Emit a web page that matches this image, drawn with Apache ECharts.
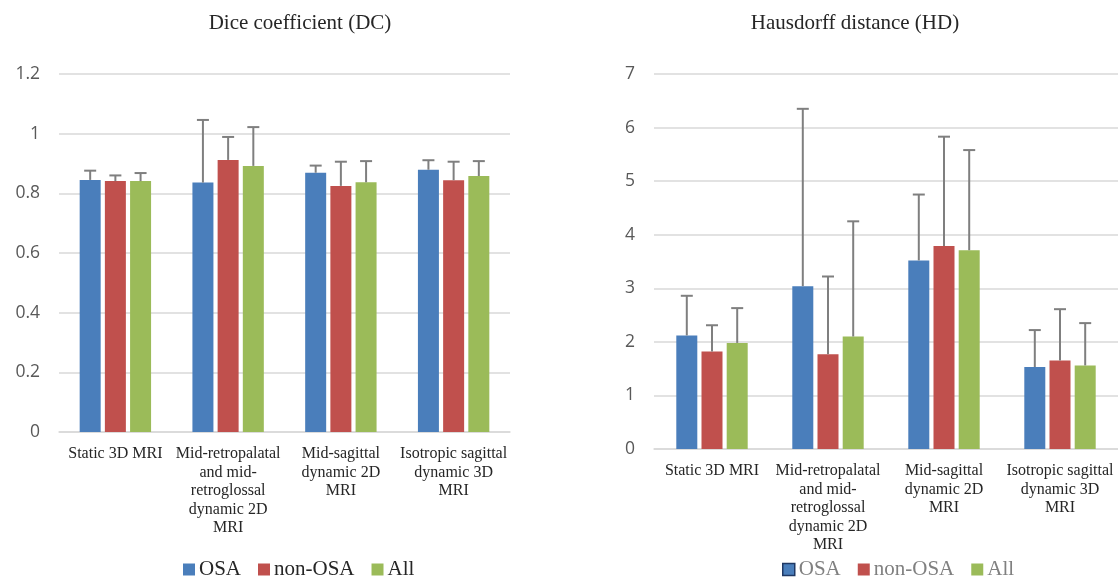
<!DOCTYPE html>
<html>
<head>
<meta charset="utf-8">
<script src="https://cdn.jsdelivr.net/npm/echarts@6/dist/echarts.min.js"></script>
<style>html,body{margin:0;padding:0;background:#fff}#c{width:1118px;height:577px}</style>
</head>
<body>
<div id="c"></div>
<script>
// ---- data ----
var categories = ['Static 3D MRI', 'Mid-retropalatal and mid-retroglossal dynamic 2D MRI', 'Mid-sagittal dynamic 2D MRI', 'Isotropic sagittal dynamic 3D MRI'];
var tickLabels = ['Static 3D MRI', 'Mid-retropalatal\nand mid-\nretroglossal\ndynamic 2D\nMRI', 'Mid-sagittal\ndynamic 2D\nMRI', 'Isotropic sagittal\ndynamic 3D\nMRI'];
var seriesNames = ['OSA', 'non-OSA', 'All'];

// Dice coefficient (mean, mean+SD)
var dcOSA = [0.845, 0.836, 0.869, 0.879];
var dcOSAUpper = [0.876, 1.046, 0.893, 0.911];
var dcNon = [0.841, 0.912, 0.825, 0.844];
var dcNonUpper = [0.860, 0.989, 0.906, 0.906];
var dcAll = [0.841, 0.892, 0.837, 0.858];
var dcAllUpper = [0.868, 1.022, 0.908, 0.908];

// Hausdorff distance (mean, mean+SD)
var hdOSA = [2.12, 3.04, 3.52, 1.53];
var hdOSAUpper = [2.86, 6.35, 4.75, 2.22];
var hdNon = [1.82, 1.77, 3.79, 1.65];
var hdNonUpper = [2.31, 3.22, 5.83, 2.61];
var hdAll = [1.98, 2.10, 3.71, 1.56];
var hdAllUpper = [2.63, 4.25, 5.58, 2.35];

var dcYTicks = ['0', '0.2', '0.4', '0.6', '0.8', '1', '1.2'];
var hdYTicks = ['0', '1', '2', '3', '4', '5', '6', '7'];

var colors = ['#4A7EBB', '#C0504D', '#9BBB59'];
var BAR_W = 21, BAR_SPACING = 25.2;

function barSeries(name, values, axisIdx, colorIdx) {
  return {
    type: 'bar', name: name, data: values,
    xAxisIndex: axisIdx, yAxisIndex: axisIdx,
    barWidth: BAR_W, barGap: '20%',
    itemStyle: { color: colors[colorIdx] },
    z: 2
  };
}
function errSeries(values, uppers, axisIdx, idx) {
  var data = values.map(function (v, i) { return [i, v, uppers[i]]; });
  return {
    type: 'custom', name: 'err' + axisIdx + '_' + idx,
    xAxisIndex: axisIdx, yAxisIndex: axisIdx, z: 3,
    data: data,
    encode: { x: 0, y: [1, 2] },
    renderItem: function (params, api) {
      var c = api.value(0);
      var base = api.coord([c, api.value(1)]);
      var top = api.coord([c, api.value(2)]);
      var x = base[0] + (idx - 1) * BAR_SPACING;
      var style = { stroke: '#7F7F7F', lineWidth: 2 };
      return {
        type: 'group',
        children: [
          { type: 'line', shape: { x1: x, y1: base[1], x2: x, y2: top[1] }, style: style },
          { type: 'line', shape: { x1: x - 6, y1: top[1], x2: x + 6, y2: top[1] }, style: style }
        ]
      };
    }
  };
}

var serif = 'Liberation Serif, Times New Roman, serif';
var sans = 'Open Sans, Noto Sans, sans-serif';

function xAxis(gridIdx) {
  return {
    type: 'category', gridIndex: gridIdx, data: categories,
    axisLine: { show: true, lineStyle: { color: '#D9D9D9', width: 1.5 } },
    axisTick: { show: false },
    axisLabel: {
      interval: 0, margin: 13, fontFamily: serif, fontSize: 16, color: '#262626', lineHeight: 18.5,
      formatter: function (v, i) { return tickLabels[i]; }
    }
  };
}
function yAxis(gridIdx, max, interval, ticks) {
  return {
    type: 'value', gridIndex: gridIdx, min: 0, max: max, interval: interval,
    axisLine: { show: false }, axisTick: { show: false },
    splitLine: { lineStyle: { color: '#D9D9D9', width: 1.5 } },
    axisLabel: {
      margin: 19, fontFamily: sans, fontSize: 17.5, color: '#595959',
      formatter: function (v) { return ticks[Math.round(v / interval)]; }
    }
  };
}

var legendItemsLeft = seriesNames.map(function (n) { return { name: n }; });
var legendItemsRight = seriesNames.map(function (n, i) {
  return i === 0 ? { name: n, itemStyle: { borderColor: '#1F3864', borderWidth: 1.5 } } : { name: n };
});

var option = {
  animation: false,
  backgroundColor: '#fff',
  title: [
    { text: 'Dice coefficient (DC)', left: 295, top: 8, textAlign: 'center',
      textStyle: { fontFamily: serif, fontSize: 21, fontWeight: 'normal', color: '#262626' } },
    { text: 'Hausdorff distance (HD)', left: 850, top: 8, textAlign: 'center',
      textStyle: { fontFamily: serif, fontSize: 21, fontWeight: 'normal', color: '#262626' } }
  ],
  legend: [
    { data: legendItemsLeft, left: 183, top: 559, padding: 0, icon: 'rect', itemWidth: 12, itemHeight: 12, itemGap: 17,
      textStyle: { fontFamily: serif, fontSize: 21, color: '#262626', padding: [0, 0, 0, -1] } },
    { data: legendItemsRight, left: 782, top: 559, padding: 0, icon: 'rect', itemWidth: 12, itemHeight: 12, itemGap: 17,
      textStyle: { fontFamily: serif, fontSize: 21, color: '#808080', padding: [0, 0, 0, -1] } }
  ],
  grid: [
    { left: 59, right: 608, top: 74, bottom: 145, containLabel: false },
    { left: 654, right: 0, top: 74, bottom: 128, containLabel: false }
  ],
  xAxis: [xAxis(0), xAxis(1)],
  yAxis: [yAxis(0, 1.2, 0.2, dcYTicks), yAxis(1, 7, 1, hdYTicks)],
  series: [
    barSeries('OSA', dcOSA, 0, 0),
    barSeries('non-OSA', dcNon, 0, 1),
    barSeries('All', dcAll, 0, 2),
    barSeries('OSA', hdOSA, 1, 0),
    barSeries('non-OSA', hdNon, 1, 1),
    barSeries('All', hdAll, 1, 2),
    errSeries(dcOSA, dcOSAUpper, 0, 0),
    errSeries(dcNon, dcNonUpper, 0, 1),
    errSeries(dcAll, dcAllUpper, 0, 2),
    errSeries(hdOSA, hdOSAUpper, 1, 0),
    errSeries(hdNon, hdNonUpper, 1, 1),
    errSeries(hdAll, hdAllUpper, 1, 2)
  ]
};
var chart = echarts.init(document.getElementById('c'), null, { renderer: 'canvas' });
chart.setOption(option);
</script>
</body>
</html>
